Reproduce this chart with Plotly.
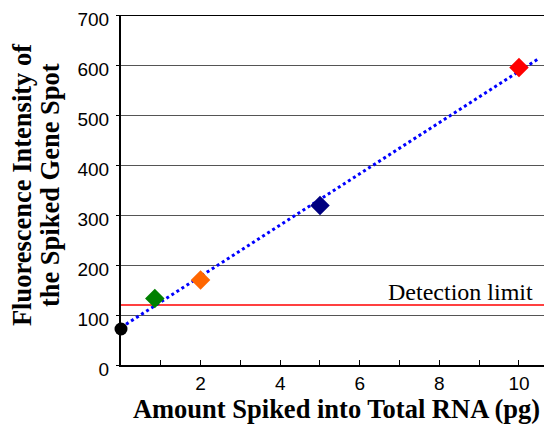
import plotly.graph_objects as go

# Data
amount_pg = [0, 0.85, 2, 5, 10]
intensity = [72, 133, 170, 319, 595]
point_colors = ["#000000", "#008000", "#FF6600", "#000080", "#FF0000"]
point_symbols = ["circle", "diamond", "diamond", "diamond", "diamond"]
point_sizes = [13, 15, 15, 15, 15]

trend_x = [0, 10.5]
trend_y = [75, 613]

detection_limit = 120
detection_x = [0, 10.85]

x_tickvals = [2, 4, 6, 8, 10]
x_minor_tickvals = [1, 3, 5, 7, 9]
y_tickvals = [0, 100, 200, 300, 400, 500, 600, 700]

y_title_lines = ["Fluorescence Intensity of", "the Spiked Gene Spot"]

fig = go.Figure()

fig.add_trace(go.Scatter(
    x=detection_x, y=[detection_limit, detection_limit], mode="lines",
    line=dict(color="#FF0000", width=1.5), showlegend=False, hoverinfo="skip"))

fig.add_trace(go.Scatter(
    x=trend_x, y=trend_y, mode="lines",
    line=dict(color="#0000FF", width=3, dash="dot"), showlegend=False))

fig.add_trace(go.Scatter(
    x=amount_pg, y=intensity, mode="markers",
    marker=dict(color=point_colors, symbol=point_symbols, size=point_sizes,
                opacity=1, line=dict(width=0)),
    cliponaxis=False, showlegend=False))

fig.add_annotation(x=8.52, y=146, text="Detection limit", showarrow=False,
                   font=dict(family="Liberation Serif", size=24, color="#000"),
                   xanchor="center", yanchor="middle")

for line_text, shift in zip(y_title_lines, [-99, -71]):
    fig.add_annotation(xref="paper", yref="paper", x=0, y=0.514, xshift=shift,
                       text="<b>" + line_text + "</b>", textangle=-90,
                       showarrow=False, xanchor="center", yanchor="middle",
                       font=dict(family="Liberation Serif", size=26.5, color="#000"))

fig.add_shape(type="line", xref="paper", yref="y", x0=0, x1=1, y0=700, y1=700,
              line=dict(color="#000", width=2))

# the page body has an 8px margin, so the figure is sized/offset to compensate
fig.update_layout(
    width=544, height=422,
    margin=dict(l=113, r=0, t=7, b=65),
    paper_bgcolor="white", plot_bgcolor="white",
    font=dict(family="Liberation Sans", color="#000"),
    xaxis=dict(
        range=[0, 10.83], tickvals=x_tickvals, automargin=False,
        ticks="inside", ticklen=5, tickcolor="#000", tickwidth=1,
        minor=dict(tickvals=x_minor_tickvals, ticks="inside", ticklen=5,
                   tickcolor="#000", tickwidth=1),
        showgrid=False, zeroline=False,
        showline=True, linecolor="#000", linewidth=2,
        ticklabeloverflow="allow",
        tickfont=dict(family="Liberation Sans", size=19, color="#000"),
        title=dict(text="<b>Amount Spiked into Total RNA (pg)</b>",
                   font=dict(family="Liberation Serif", size=26.5, color="#000"),
                   standoff=7),
    ),
    yaxis=dict(
        range=[0, 700], tickvals=y_tickvals, automargin=False,
        ticks="outside", ticklen=3, tickcolor="#000",
        showgrid=True, gridcolor="#555", gridwidth=1, zeroline=False,
        showline=True, linecolor="#000", linewidth=2,
        ticklabeloverflow="allow", ticklabelstandoff=3, ticklabelshift=4,
        tickfont=dict(family="Liberation Sans", size=19, color="#000"),
    ),
)

fig.write_html("out.html")
